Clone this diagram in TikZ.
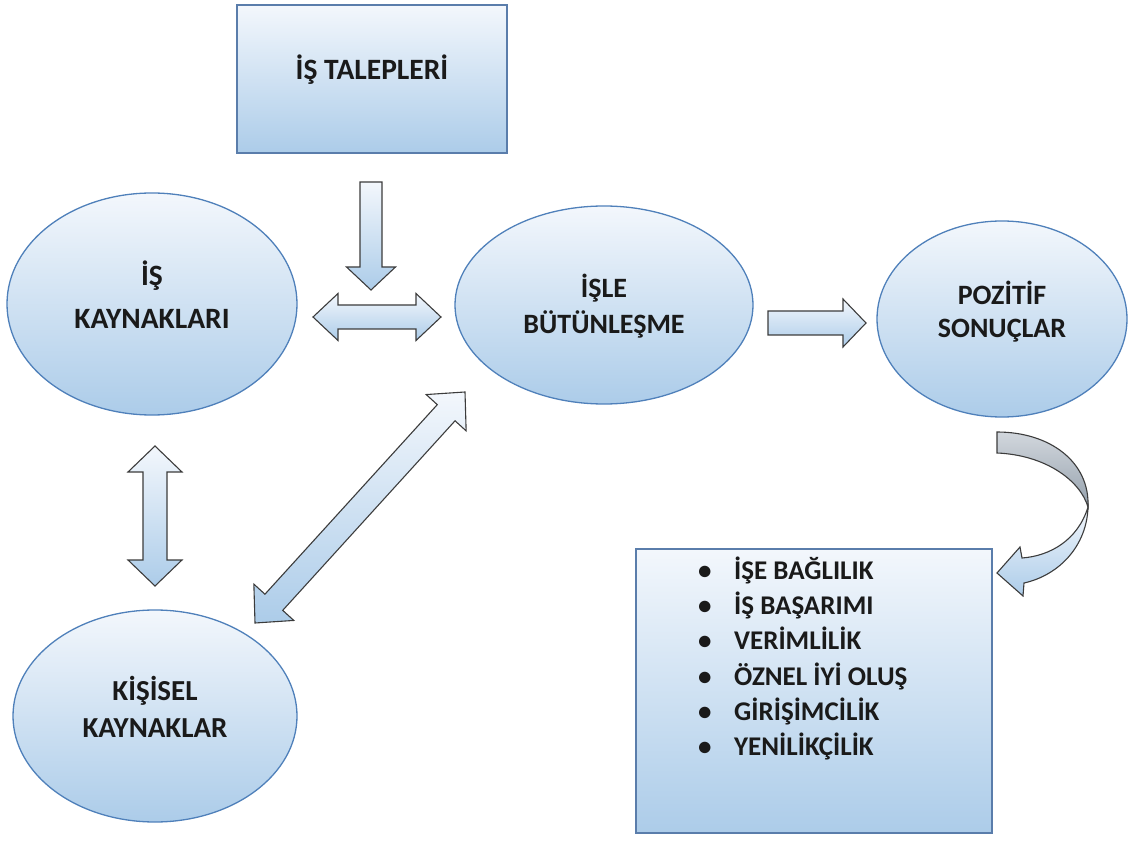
\documentclass[tikz,border=0pt]{standalone}
\usepackage{fontspec}
\setmainfont{Carlito}
\usetikzlibrary{calc,shapes.geometric}
\definecolor{fillTop}{HTML}{F3F7FC}
\definecolor{fillBot}{HTML}{ACCCE9}
\definecolor{ellLine}{HTML}{4F80BA}
\definecolor{rectLine}{HTML}{5A7DAB}
\definecolor{arrLine}{HTML}{3C3C3C}
\definecolor{grayTop}{HTML}{D2D7DD}
\definecolor{grayBot}{HTML}{95A1AD}
\definecolor{txt}{HTML}{1A1A1A}
\tikzset{
  shp/.style={top color=fillTop, bottom color=fillBot, line width=1.3pt},
  ell/.style={shp, draw=ellLine, ellipse, inner sep=0pt},
  box/.style={shp, draw=rectLine, rectangle, inner sep=0pt},
  ttl/.style 2 args={text=txt, align=center, font=\fontsize{#1}{#2}\selectfont\bfseries},
  itm/.style={text=txt, anchor=base west, inner sep=0pt, font=\fontsize{27}{32}\selectfont\bfseries},
  blk/.style={draw=arrLine, line width=1.1pt, line join=miter, top color=fillTop, bottom color=fillBot},
}
% double block arrow between coordinates #1 and #2; head length #3, head half width #4, shaft half width #5
\newcommand\BlkDouble[5]{%
  \path[blk] (#1)
   -- ($(#1)!#3!(#2)!#4!90:(#2)$)
   -- ($(#1)!#3!(#2)!#5!90:(#2)$)
   -- ($(#2)!#3!(#1)!#5!-90:(#1)$)
   -- ($(#2)!#3!(#1)!#4!-90:(#1)$)
   -- (#2)
   -- ($(#2)!#3!(#1)!#4!90:(#1)$)
   -- ($(#2)!#3!(#1)!#5!90:(#1)$)
   -- ($(#1)!#3!(#2)!#5!-90:(#2)$)
   -- ($(#1)!#3!(#2)!#4!-90:(#2)$)
   -- cycle;}
% single block arrow from #1 to tip #2
\newcommand\BlkSingle[5]{%
  \path[blk] ($(#1)!#5!90:(#2)$)
   -- ($(#2)!#3!(#1)!#5!-90:(#1)$)
   -- ($(#2)!#3!(#1)!#4!-90:(#1)$)
   -- (#2)
   -- ($(#2)!#3!(#1)!#4!90:(#1)$)
   -- ($(#2)!#3!(#1)!#5!90:(#1)$)
   -- ($(#1)!#5!-90:(#2)$)
   -- cycle;}
\begin{document}
\begin{tikzpicture}[x=1pt,y=-1pt]
\useasboundingbox (0,0) rectangle (1128,842);

% shapes
\node[box, minimum width=270pt, minimum height=148pt] (tal) at (372,79) {};
\node[ell, minimum width=290pt, minimum height=222pt] (ik) at (152,304) {};
\node[ell, minimum width=298pt, minimum height=198pt] (ib) at (604,305) {};
\node[ell, minimum width=250pt, minimum height=196pt] (ps) at (1002,319) {};
\node[ell, minimum width=284pt, minimum height=212pt] (kk) at (155,716) {};
\node[box, minimum width=356pt, minimum height=284pt] (lst) at (814,691) {};

% texts
\node[ttl={29.5}{34}] (talT) at ([yshift=9pt]tal.center) {İŞ TALEPLERİ};
\node[ttl={29.5}{43}] (ikT) at ([yshift=9pt]ik.center) {İŞ\\KAYNAKLARI};
\node[ttl={28}{36}] (ibT) at ([yshift=-1pt]ib.center) {İŞLE\\BÜTÜNLEŞME};
\node[ttl={28}{33}] (psT) at ([yshift=7pt]ps.center) {POZİTİF\\SONUÇLAR};
\node[ttl={29}{37}] (kkT) at ([yshift=9pt]kk.center) {KİŞİSEL\\KAYNAKLAR};

\node[itm] (l1) at (698,579) {\makebox[36pt][l]{•}İŞE BAĞLILIK};
\node[itm] (l2) at (698,614) {\makebox[36pt][l]{•}İŞ BAŞARIMI};
\node[itm] (l3) at (698,649) {\makebox[36pt][l]{•}VERİMLİLİK};
\node[itm] (l4) at (698,685) {\makebox[36pt][l]{•}ÖZNEL İYİ OLUŞ};
\node[itm] (l5) at (698,720) {\makebox[36pt][l]{•}GİRİŞİMCİLİK};
\node[itm] (l6) at (698,755) {\makebox[36pt][l]{•}YENİLİKÇİLİK};

% arrow end points
\coordinate (dA) at (371,182);  \coordinate (dB) at (371,290);
\coordinate (hA) at (313,317);  \coordinate (hB) at (441,317);
\coordinate (rA) at (768,323);  \coordinate (rB) at (866,323);
\coordinate (vA) at (155,446);  \coordinate (vB) at (155,586);
\coordinate (gA) at (255,623);  \coordinate (gB) at (465,392);

\BlkSingle{dA}{dB}{23pt}{24.5pt}{11pt}
\BlkDouble{hA}{hB}{25pt}{23.5pt}{12pt}
\BlkSingle{rA}{rB}{23pt}{24pt}{12pt}
\BlkDouble{vA}{vB}{26pt}{27pt}{12pt}
\BlkDouble{gA}{gB}{28pt}{27pt}{12pt}

% curved arrow from POZITIF SONUCLAR to list
\coordinate (c1) at (997,432);
\coordinate (c2) at (997,453);
\coordinate (cm) at (1088,507);
\coordinate (c3) at (1024,583);
\coordinate (c4) at (1023,596);
\coordinate (ct) at (997,573);
\coordinate (c5) at (1020,547);
\coordinate (c6) at (1022,558);
\path[draw=arrLine, line width=1.1pt, top color=grayTop, bottom color=grayBot]
  (c1) .. controls (1050,432) and (1090,462) .. (cm)
       .. controls (1080,480) and (1045,455) .. (c2) -- cycle;
\path[blk]
  (cm) .. controls (1087,545) and (1060,575) .. (c3)
  -- (c4) -- (ct) -- (c5) -- (c6)
  .. controls (1050,556) and (1078,540) .. (cm) -- cycle;
\end{tikzpicture}
\end{document}
